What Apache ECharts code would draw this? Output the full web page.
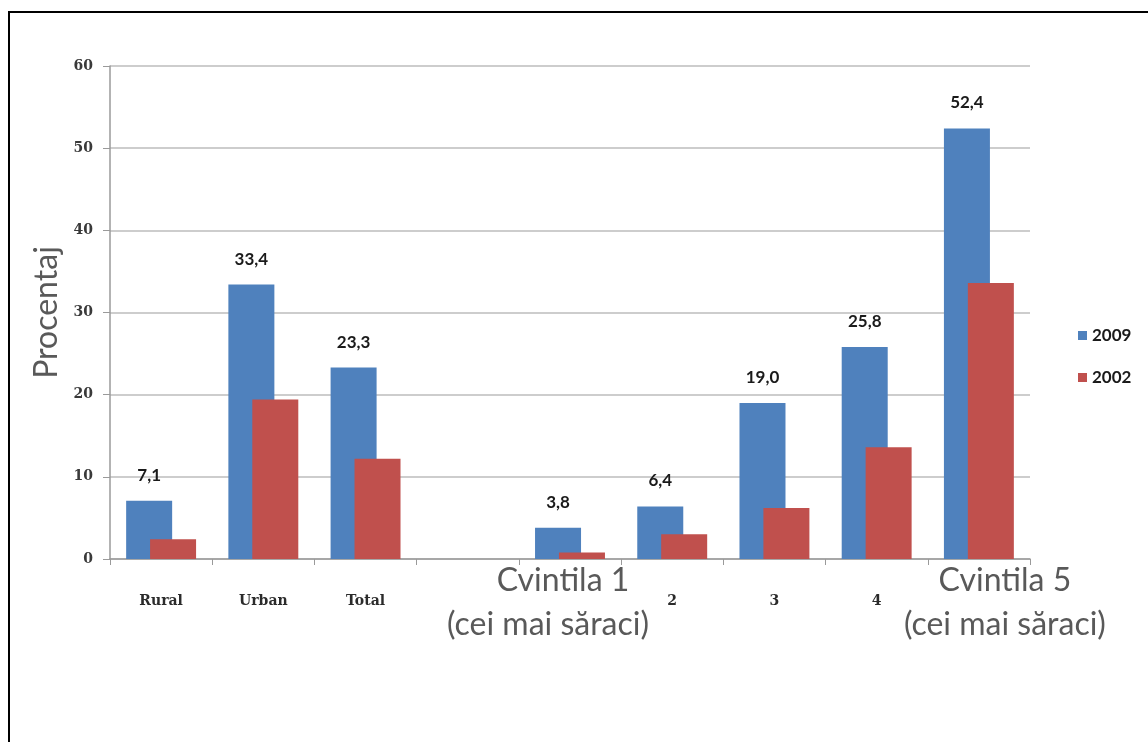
<!DOCTYPE html>
<html>
<head>
<meta charset="utf-8">
<script src="https://cdn.jsdelivr.net/npm/echarts@6/dist/echarts.min.js"></script>
<style>html,body{margin:0;padding:0;background:#fff}#c{width:1148px;height:742px}</style>
</head>
<body>
<div id="c"></div>
<script>
var categories = ['Rural', 'Urban', 'Total', '', 'Cvintila 1\n(cei mai săraci)', '2', '3', '4', 'Cvintila 5\n(cei mai săraci)'];
var seriesNames = ['2009', '2002'];
var values2009 = [7.1, 33.4, 23.3, null, 3.8, 6.4, 19.0, 25.8, 52.4];
var values2002 = [2.4, 19.4, 12.2, null, 0.8, 3.0, 6.2, 13.6, 33.6];
var yTicks = { min: 0, max: 60, interval: 10 };

var chart = echarts.init(document.getElementById('c'));
var option = {
  backgroundColor: '#ffffff',
  animation: false,
  graphic: [{
    type: 'rect',
    shape: { x: 9, y: 12, width: 1300, height: 900 },
    style: { fill: 'none', stroke: '#000', lineWidth: 2 },
    silent: true
  }],
  grid: { left: 110, right: 118, top: 66, bottom: 183 },
  legend: {
    orient: 'vertical',
    left: 1073,
    top: 322,
    itemWidth: 9,
    itemHeight: 9,
    itemGap: 25,
    icon: 'rect',
    data: seriesNames,
    textStyle: { fontFamily: 'Lato', fontWeight: 'bold', fontSize: 17, color: '#1a1a1a' }
  },
  xAxis: {
    type: 'category',
    data: categories,
    boundaryGap: true,
    axisLine: { lineStyle: { color: '#9a9a9a', width: 1.5 } },
    axisTick: { show: true, length: 6, lineStyle: { color: '#9a9a9a' } },
    axisLabel: {
      interval: 0,
      margin: 0,
      formatter: function (v, i) {
        if (v.indexOf('Cvintila') === 0) {
          var parts = v.split('\n');
          if (i === 4) {
            return '{c1a|' + parts[0] + '}\n{c1b|' + parts[1] + '}';
          }
          return '{c5|' + parts[0] + '}\n{c5|' + parts[1] + '}';
        }
        return '{small|' + v + '}';
      },
      rich: {
        small: { fontFamily: 'DejaVu Serif', fontWeight: 'bold', fontSize: 14, color: '#2b2b2b', lineHeight: 84 },
        c1a: { fontFamily: 'Lato', fontSize: 32, color: '#595959', lineHeight: 44, padding: [0, 14, 0, 0] },
        c1b: { fontFamily: 'Lato', fontSize: 32, color: '#595959', lineHeight: 44, padding: [0, 44, 0, 0] },
        c5: { fontFamily: 'Lato', fontSize: 32, color: '#595959', lineHeight: 44, padding: [0, 0, 0, 52] }
      }
    },
    splitLine: { show: false }
  },
  yAxis: {
    type: 'value',
    min: yTicks.min,
    max: yTicks.max,
    interval: yTicks.interval,
    name: 'Procentaj',
    nameLocation: 'middle',
    nameGap: 47,
    nameTextStyle: { fontFamily: 'Lato', fontSize: 32, color: '#595959' },
    axisLine: { show: true, lineStyle: { color: '#9a9a9a', width: 1.5 } },
    axisTick: { show: true, length: 7, lineStyle: { color: '#9a9a9a' } },
    axisLabel: { margin: 17, fontFamily: 'DejaVu Serif', fontWeight: 'bold', fontSize: 14, color: '#3a3a3a' },
    splitLine: { lineStyle: { color: '#bdbdbd', width: 1.5 } }
  },
  series: [
    {
      name: seriesNames[0],
      type: 'bar',
      data: values2009,
      barWidth: '45%',
      barGap: '-48%',
      itemStyle: { color: '#4F81BD' },
      z: 2,
      label: {
        show: true,
        position: 'top',
        distance: 17,
        fontFamily: 'Lato',
        fontWeight: 'bold',
        fontSize: 17,
        color: '#1a1a1a',
        formatter: function (p) { return p.value == null ? '' : p.value.toFixed(1).replace('.', ','); }
      }
    },
    {
      name: seriesNames[1],
      type: 'bar',
      data: values2002,
      barWidth: '45%',
      barGap: '-48%',
      itemStyle: { color: '#C0504D' },
      z: 3
    }
  ]
};
chart.setOption(option);
</script>
</body>
</html>
